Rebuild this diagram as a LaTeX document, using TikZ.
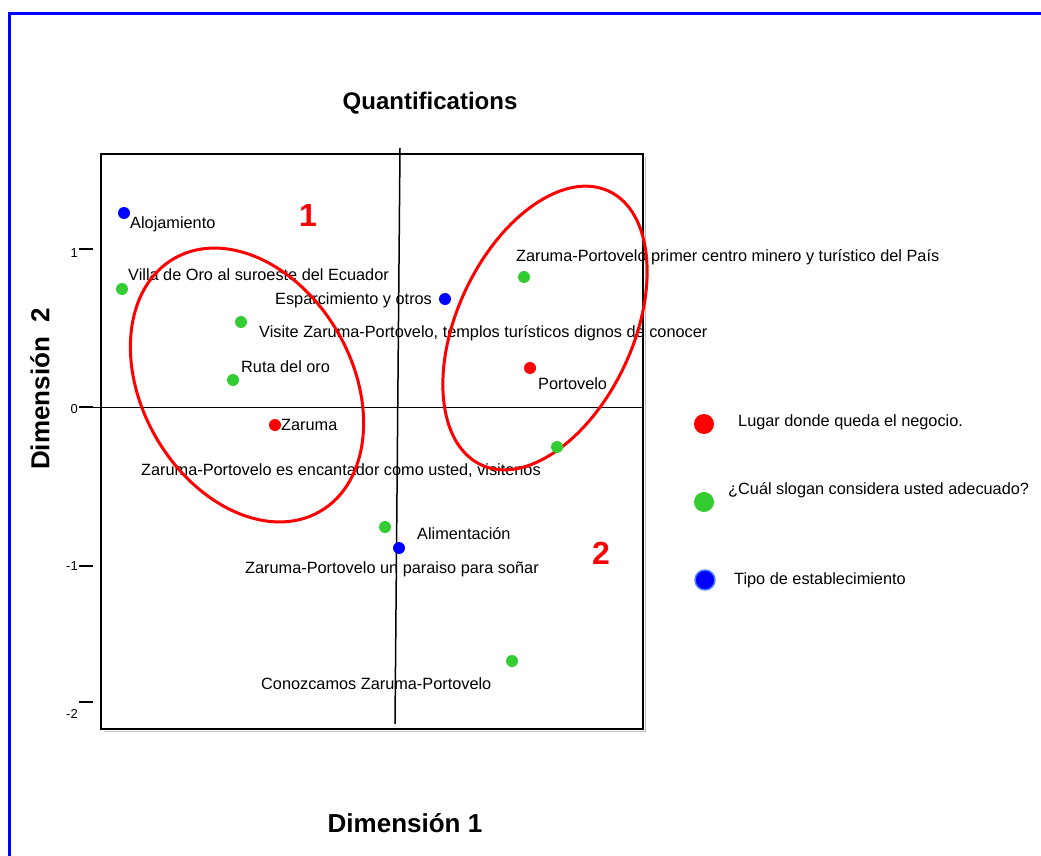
\documentclass[tikz,border=0pt]{standalone}
\usepackage{fontspec}
\setmainfont{Liberation Sans}
\definecolor{ptred}{RGB}{255,0,0}
\definecolor{ptgreen}{RGB}{51,204,51}
\definecolor{ptblue}{RGB}{0,0,255}
\definecolor{ringblue}{RGB}{80,130,255}

\begin{document}
\begin{tikzpicture}[x=1pt, y=-1pt,
  dot/.style={circle, fill, inner sep=0pt, minimum size=12pt},
  bigdot/.style={circle, fill, inner sep=0pt, minimum size=20pt},
  lbl/.style={anchor=base west, inner sep=0pt, font=\fontsize{16.3}{19}\selectfont},
  ticklbl/.style={anchor=base east, inner sep=0pt, font=\fontsize{13}{15}\selectfont},
  dimlbl/.style={font=\bfseries\fontsize{26}{30}\selectfont},
  ring/.style={ptred, line width=3pt}]
\useasboundingbox (0,0) rectangle (1041,856);

% frame
\draw[ptblue, line width=3pt] (9,870) -- (9,14) -- (1050,14);

\node[font=\bfseries\fontsize{24}{28}\selectfont] (title) at (430,103) {Quantifications};

% plot box and axes
\draw[gray!50, line width=1.5pt] (104,731.5) -- (645.5,731.5) -- (645.5,157);
\draw[line width=2pt] (101,154) rectangle (643,729);
\coordinate (xl) at (92,407);
\coordinate (xr) at (643,407);
\coordinate (yt) at (400,148);
\coordinate (yb) at (395,724);
\draw[line width=1pt] (xl) -- (xr);
\draw[line width=1.5pt] (yt) -- (yb);

\foreach \ty/\tl/\ly in {249/1/257, 407/0/413, 566/-1/570, 702/-2/718} {
  \draw[line width=2pt] (79,\ty) -- (93,\ty);
  \node[ticklbl] (tick\tl) at (78,\ly) {\tl};
}

\node[dimlbl] (dimx) at (405,823) {Dimensión 1};
\node[dimlbl, rotate=90] (dimy) at (40,389) {Dimensión\ \ 2};

% group numbers
\node[ptred, font=\bfseries\fontsize{32}{36}\selectfont] (grpa) at (308,215) {1};
\node[ptred, font=\bfseries\fontsize{32}{36}\selectfont] (grpb) at (601,553) {2};

% point labels
\node[lbl] (alojlbl) at (130,228) {Alojamiento};
\node[lbl] (villalbl) at (128,280) {Villa de Oro al suroeste del Ecuador};
\node[lbl] (esparlbl) at (275,304) {Esparcimiento y otros};
\node[lbl] (visitelbl) at (259,337) {Visite Zaruma-Portovelo, templos turísticos dignos de conocer};
\node[lbl] (rutalbl) at (241,372) {Ruta del oro};
\node[lbl] (primerlbl) at (516,261) {Zaruma-Portovelo primer centro minero y turístico del País};
\node[lbl] (portlbl) at (538,389) {Portovelo};
\node[lbl] (zarlbl) at (281,430) {Zaruma};
\node[lbl] (encantlbl) at (141,475) {Zaruma-Portovelo es encantador como usted, visitenos};
\node[lbl] (alimlbl) at (417,539) {Alimentación};
\node[lbl] (paraislbl) at (245,573) {Zaruma-Portovelo un paraiso para soñar};
\node[lbl] (conozlbl) at (261,689) {Conozcamos Zaruma-Portovelo};

% groups
\draw[ring, rotate around={-60:(247,385)}] (247,385) ellipse [x radius=146, y radius=105];
\draw[ring, rotate around={65:(545,328)}] (545,328) ellipse [x radius=151, y radius=88];

% points
\node[dot, ptblue] (aloj) at (124,213) {};
\node[dot, ptblue] (espar) at (445,299) {};
\node[dot, ptblue] (alim) at (399,548) {};
\node[dot, ptgreen] (villa) at (122,289) {};
\node[dot, ptgreen] (visite) at (241,322) {};
\node[dot, ptgreen] (ruta) at (233,380) {};
\node[dot, ptgreen] (primer) at (524,277) {};
\node[dot, ptgreen] (encant) at (557,447) {};
\node[dot, ptgreen] (paraiso) at (385,527) {};
\node[dot, ptgreen] (conoz) at (512,661) {};
\node[dot, ptred] (zaruma) at (275,425) {};
\node[dot, ptred] (portov) at (530,368) {};

% legend
\node[bigdot, ptred] (legred) at (704,424) {};
\node[lbl] (legredlbl) at (738,426) {Lugar donde queda el negocio.};
\node[bigdot, ptgreen] (leggreen) at (704,502) {};
\node[lbl] (leggreenlbl) at (728,494) {¿Cuál slogan considera usted adecuado?};
\node[bigdot, ptblue, draw=ringblue, line width=1.5pt] (legblue) at (705,580) {};
\node[lbl] (legbluelbl) at (734,584) {Tipo de establecimiento};

\end{tikzpicture}
\end{document}
